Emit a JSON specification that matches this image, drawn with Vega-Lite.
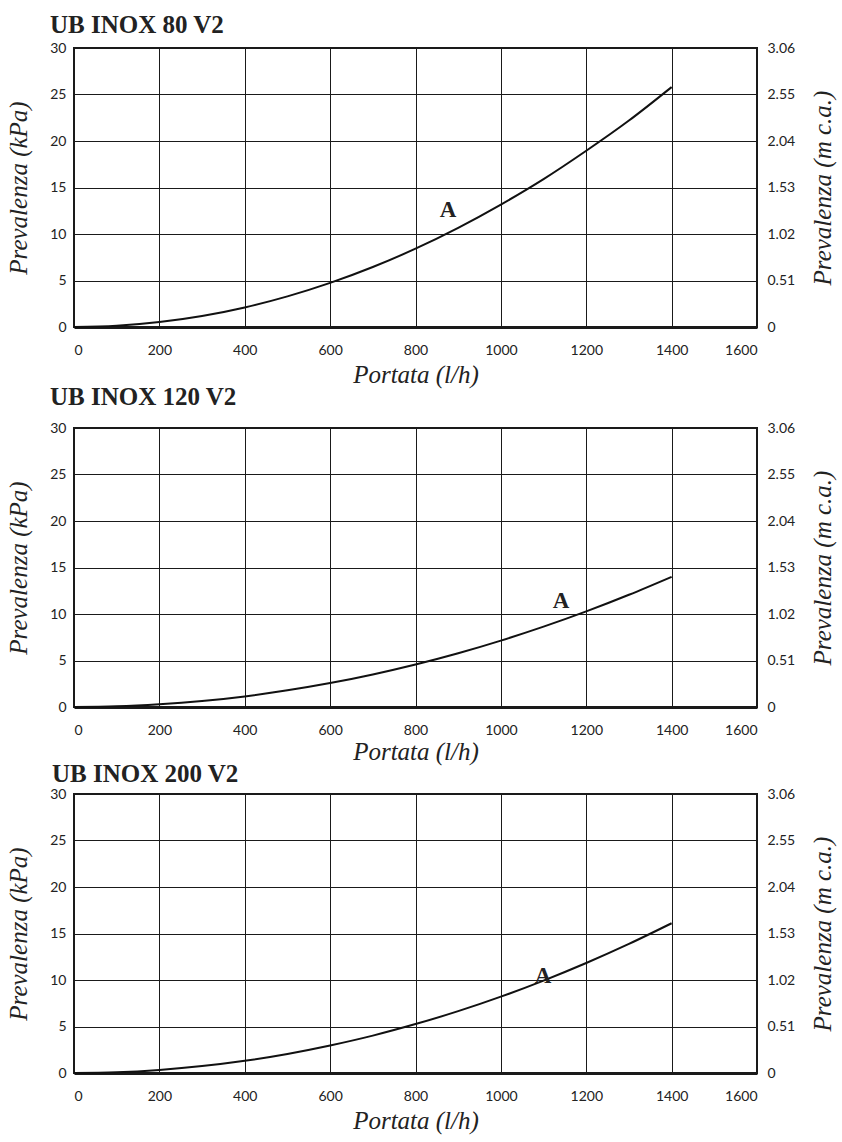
{
  "$schema": "https://vega.github.io/schema/vega-lite/v6.json",
  "padding": {"top": 12, "left": 5, "right": 0, "bottom": 2},
  "background": "white",
  "spacing": -4,
  "config": {
    "view": {"stroke": "#1a1a1a", "strokeWidth": 2},
    "axis": {
      "labelFont": "Lato", "labelFontSize": 14, "labelColor": "#222", "labelFontWeight": "normal",
      "titleFont": "Liberation Serif", "titleFontStyle": "italic", "titleFontWeight": "normal", "titleFontSize": 25, "titleColor": "#222",
      "gridColor": "#1a1a1a", "gridOpacity": 1, "gridWidth": 1,
      "ticks": false, "domain": false
    },
    "title": {"font": "Liberation Serif", "fontWeight": "bold", "fontSize": 25, "color": "#222", "anchor": "start", "frame": "group"}
  },
  "data": {"values": [
    {"model": "80", "portata": 0, "kpa": 0},
    {"model": "80", "portata": 100, "kpa": 0.13},
    {"model": "80", "portata": 200, "kpa": 0.53},
    {"model": "80", "portata": 300, "kpa": 1.18},
    {"model": "80", "portata": 400, "kpa": 2.1},
    {"model": "80", "portata": 500, "kpa": 3.29},
    {"model": "80", "portata": 600, "kpa": 4.74},
    {"model": "80", "portata": 700, "kpa": 6.45},
    {"model": "80", "portata": 800, "kpa": 8.42},
    {"model": "80", "portata": 900, "kpa": 10.66},
    {"model": "80", "portata": 1000, "kpa": 13.16},
    {"model": "80", "portata": 1100, "kpa": 15.9},
    {"model": "80", "portata": 1200, "kpa": 18.95},
    {"model": "80", "portata": 1300, "kpa": 22.2},
    {"model": "80", "portata": 1400, "kpa": 25.8},
    {"model": "120", "portata": 0, "kpa": 0},
    {"model": "120", "portata": 100, "kpa": 0.07},
    {"model": "120", "portata": 200, "kpa": 0.29},
    {"model": "120", "portata": 300, "kpa": 0.64},
    {"model": "120", "portata": 400, "kpa": 1.14},
    {"model": "120", "portata": 500, "kpa": 1.79},
    {"model": "120", "portata": 600, "kpa": 2.57},
    {"model": "120", "portata": 700, "kpa": 3.5},
    {"model": "120", "portata": 800, "kpa": 4.57},
    {"model": "120", "portata": 900, "kpa": 5.78},
    {"model": "120", "portata": 1000, "kpa": 7.14},
    {"model": "120", "portata": 1100, "kpa": 8.64},
    {"model": "120", "portata": 1200, "kpa": 10.28},
    {"model": "120", "portata": 1300, "kpa": 12.07},
    {"model": "120", "portata": 1400, "kpa": 14.0},
    {"model": "200", "portata": 0, "kpa": 0},
    {"model": "200", "portata": 100, "kpa": 0.08},
    {"model": "200", "portata": 200, "kpa": 0.33},
    {"model": "200", "portata": 300, "kpa": 0.74},
    {"model": "200", "portata": 400, "kpa": 1.31},
    {"model": "200", "portata": 500, "kpa": 2.05},
    {"model": "200", "portata": 600, "kpa": 2.96},
    {"model": "200", "portata": 700, "kpa": 4.02},
    {"model": "200", "portata": 800, "kpa": 5.26},
    {"model": "200", "portata": 900, "kpa": 6.65},
    {"model": "200", "portata": 1000, "kpa": 8.21},
    {"model": "200", "portata": 1100, "kpa": 9.94},
    {"model": "200", "portata": 1200, "kpa": 11.83},
    {"model": "200", "portata": 1300, "kpa": 13.88},
    {"model": "200", "portata": 1400, "kpa": 16.1},
    {"model": "80", "portata": 876, "kpa": 12.6, "label": "A"},
    {"model": "120", "portata": 1141, "kpa": 11.4, "label": "A"},
    {"model": "200", "portata": 1099, "kpa": 10.4, "label": "A"}
  ]},
  "vconcat": [
    {
      "title": {"text": "UB INOX 80 V2", "dx": -24, "offset": 3},
      "width": 683, "height": 279,
      "transform": [{"filter": "datum.model == '80'"}],
      "layer": [
        {
          "transform": [{"filter": "!datum.label"}],
          "mark": {"type": "line", "color": "#111", "strokeWidth": 2, "interpolate": "monotone"},
          "encoding": {
            "x": {"field": "portata", "type": "quantitative", "scale": {"domain": [0, 1600]},
                  "axis": {"values": [0,200,400,600,800,1000,1200,1400,1600], "format": "d", "title": "Portata (l/h)", "labelPadding": 16, "titlePadding": 5, "domain": true, "domainWidth": 3, "domainColor": "#1a1a1a"}},
            "y": {"field": "kpa", "type": "quantitative", "scale": {"domain": [0, 30]},
                  "axis": {"orient": "left", "values": [0,5,10,15,20,25,30], "title": "Prevalenza (kPa)", "labelPadding": 8, "titlePadding": 18}}
          }
        },
        {
          "transform": [{"filter": "!datum.label"}],
          "mark": {"type": "line", "opacity": 0},
          "encoding": {
            "x": {"field": "portata", "type": "quantitative"},
            "y": {"field": "kpa", "type": "quantitative",
                  "axis": {"orient": "right", "values": [0,5,10,15,20,25,30], "grid": false, "labelExpr": "datum.value == 0 ? '0' : format(datum.value * 0.102, '.2f')", "title": "Prevalenza (m c.a.)", "titleAngle": 270, "titleBaseline": "top", "labelPadding": 10, "titlePadding": 16}}
          }
        },
        {
          "transform": [{"filter": "datum.label"}],
          "mark": {"type": "text", "font": "Liberation Serif", "fontWeight": "bold", "fontSize": 23, "color": "#222"},
          "encoding": {
            "x": {"field": "portata", "type": "quantitative"},
            "y": {"field": "kpa", "type": "quantitative", "axis": null},
            "text": {"field": "label"}
          }
        }
      ],
      "resolve": {"axis": {"y": "independent"}}
    },
    {
      "title": {"text": "UB INOX 120 V2", "dx": -24, "offset": 11},
      "width": 683, "height": 279,
      "transform": [{"filter": "datum.model == '120'"}],
      "layer": [
        {
          "transform": [{"filter": "!datum.label"}],
          "mark": {"type": "line", "color": "#111", "strokeWidth": 2, "interpolate": "monotone"},
          "encoding": {
            "x": {"field": "portata", "type": "quantitative", "scale": {"domain": [0, 1600]},
                  "axis": {"values": [0,200,400,600,800,1000,1200,1400,1600], "format": "d", "title": "Portata (l/h)", "labelPadding": 16, "titlePadding": 2, "domain": true, "domainWidth": 3, "domainColor": "#1a1a1a"}},
            "y": {"field": "kpa", "type": "quantitative", "scale": {"domain": [0, 30]},
                  "axis": {"orient": "left", "values": [0,5,10,15,20,25,30], "title": "Prevalenza (kPa)", "labelPadding": 8, "titlePadding": 18}}
          }
        },
        {
          "transform": [{"filter": "!datum.label"}],
          "mark": {"type": "line", "opacity": 0},
          "encoding": {
            "x": {"field": "portata", "type": "quantitative"},
            "y": {"field": "kpa", "type": "quantitative",
                  "axis": {"orient": "right", "values": [0,5,10,15,20,25,30], "grid": false, "labelExpr": "datum.value == 0 ? '0' : format(datum.value * 0.102, '.2f')", "title": "Prevalenza (m c.a.)", "titleAngle": 270, "titleBaseline": "top", "labelPadding": 10, "titlePadding": 16}}
          }
        },
        {
          "transform": [{"filter": "datum.label"}],
          "mark": {"type": "text", "font": "Liberation Serif", "fontWeight": "bold", "fontSize": 23, "color": "#222"},
          "encoding": {
            "x": {"field": "portata", "type": "quantitative"},
            "y": {"field": "kpa", "type": "quantitative", "axis": null},
            "text": {"field": "label"}
          }
        }
      ],
      "resolve": {"axis": {"y": "independent"}}
    },
    {
      "title": {"text": "UB INOX 200 V2", "dx": -22, "offset": 0},
      "width": 683, "height": 279,
      "transform": [{"filter": "datum.model == '200'"}],
      "layer": [
        {
          "transform": [{"filter": "!datum.label"}],
          "mark": {"type": "line", "color": "#111", "strokeWidth": 2, "interpolate": "monotone"},
          "encoding": {
            "x": {"field": "portata", "type": "quantitative", "scale": {"domain": [0, 1600]},
                  "axis": {"values": [0,200,400,600,800,1000,1200,1400,1600], "format": "d", "title": "Portata (l/h)", "labelPadding": 16, "titlePadding": 5, "domain": true, "domainWidth": 3, "domainColor": "#1a1a1a"}},
            "y": {"field": "kpa", "type": "quantitative", "scale": {"domain": [0, 30]},
                  "axis": {"orient": "left", "values": [0,5,10,15,20,25,30], "title": "Prevalenza (kPa)", "labelPadding": 8, "titlePadding": 18}}
          }
        },
        {
          "transform": [{"filter": "!datum.label"}],
          "mark": {"type": "line", "opacity": 0},
          "encoding": {
            "x": {"field": "portata", "type": "quantitative"},
            "y": {"field": "kpa", "type": "quantitative",
                  "axis": {"orient": "right", "values": [0,5,10,15,20,25,30], "grid": false, "labelExpr": "datum.value == 0 ? '0' : format(datum.value * 0.102, '.2f')", "title": "Prevalenza (m c.a.)", "titleAngle": 270, "titleBaseline": "top", "labelPadding": 10, "titlePadding": 16}}
          }
        },
        {
          "transform": [{"filter": "datum.label"}],
          "mark": {"type": "text", "font": "Liberation Serif", "fontWeight": "bold", "fontSize": 23, "color": "#222"},
          "encoding": {
            "x": {"field": "portata", "type": "quantitative"},
            "y": {"field": "kpa", "type": "quantitative", "axis": null},
            "text": {"field": "label"}
          }
        }
      ],
      "resolve": {"axis": {"y": "independent"}}
    }
  ]
}
